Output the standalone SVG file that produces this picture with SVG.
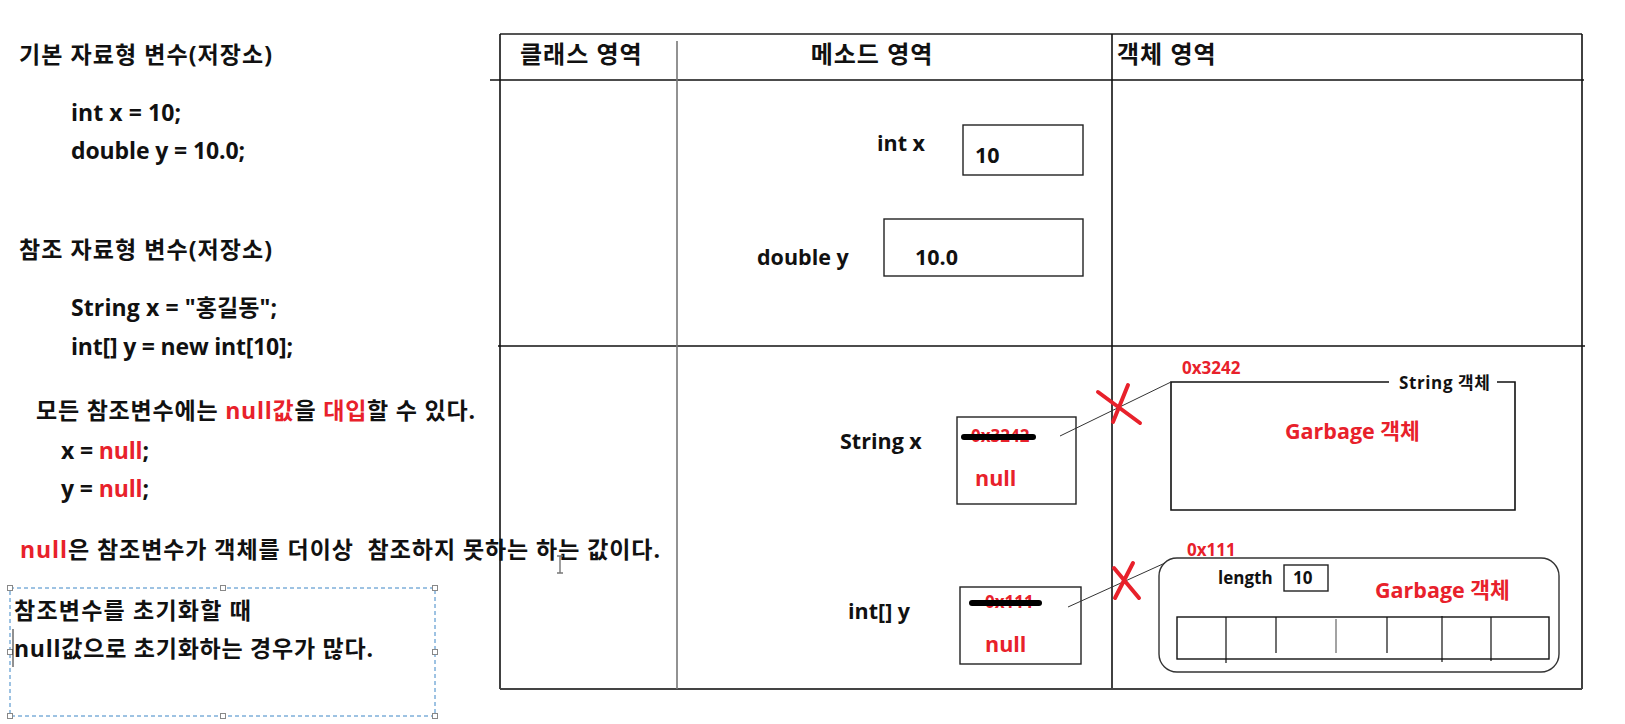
<svg xmlns="http://www.w3.org/2000/svg" width="1625" height="724" viewBox="0 0 1625 724">
<style>
text{font-family:"Open Sans","Noto Sans CJK KR",sans-serif;font-weight:700;fill:#111}
.l{font-size:23px}
.h{font-size:24px;letter-spacing:1px}
.v{font-size:21.5px}
.s{font-size:17px}
.r{fill:#e8212b}
.tb{stroke:#111;stroke-width:1.6;fill:none}
.bx{fill:#fff;stroke:#222;stroke-width:1.4}
.strike{stroke:#000;stroke-width:6;stroke-linecap:round}
.xm{stroke:#e8212b;stroke-width:4;stroke-linecap:round;fill:none}
.con{stroke:#333;stroke-width:1;fill:none}
.hd{fill:#fff;stroke:#888;stroke-width:1}
</style>
<rect width="1625" height="724" fill="#fff"/>

<g id="legend-text">
<text class="l" x="19" y="63" textLength="253" lengthAdjust="spacing">기본 자료형 변수(저장소)</text>
<text class="l" x="71" y="121" textLength="110" lengthAdjust="spacing">int x = 10;</text>
<text class="l" x="71" y="159" textLength="174" lengthAdjust="spacing">double y = 10.0;</text>
<text class="l" x="19" y="258" textLength="253" lengthAdjust="spacing">참조 자료형 변수(저장소)</text>
<text class="l" x="71" y="316" textLength="206" lengthAdjust="spacing">String x = "홍길동";</text>
<text class="l" x="71" y="355" textLength="222" lengthAdjust="spacing">int[] y = new int[10];</text>
<text class="l" x="36" y="419" textLength="439" lengthAdjust="spacing">모든 참조변수에는 <tspan class="r">null값</tspan>을 <tspan class="r">대입</tspan>할 수 있다.</text>
<text class="l" x="61" y="459" textLength="88" lengthAdjust="spacing">x = <tspan class="r">null</tspan>;</text>
<text class="l" x="61" y="497" textLength="88" lengthAdjust="spacing">y = <tspan class="r">null</tspan>;</text>
<text class="l" x="20" y="558" xml:space="preserve" textLength="640" lengthAdjust="spacing"><tspan class="r">null</tspan>은 참조변수가 객체를 더이상  참조하지 못하는 하는 값이다.</text>
</g>

<g id="selected-textbox">
<rect x="10" y="588" width="425" height="128" fill="none" stroke="#3d86c6" stroke-width="1" stroke-dasharray="4,3"/>
<rect class="hd" x="7.5" y="585.5" width="5" height="5"/>
<rect class="hd" x="220.5" y="585.5" width="5" height="5"/>
<rect class="hd" x="432.5" y="585.5" width="5" height="5"/>
<rect class="hd" x="7.5" y="649.5" width="5" height="5"/>
<rect class="hd" x="432.5" y="649.5" width="5" height="5"/>
<rect class="hd" x="7.5" y="713.5" width="5" height="5"/>
<rect class="hd" x="220.5" y="713.5" width="5" height="5"/>
<rect class="hd" x="432.5" y="713.5" width="5" height="5"/>
<text class="l" x="14" y="619" textLength="237" lengthAdjust="spacing">참조변수를 초기화할 때</text>
<text class="l" x="14" y="657" textLength="359" lengthAdjust="spacing">null값으로 초기화하는 경우가 많다.</text>
<line x1="13" y1="629" x2="13" y2="667" stroke="#222" stroke-width="1"/>
</g>

<g id="cursor">
<path d="M557,556 H563 M560,556 V573 M557,573 H563" stroke="#777" stroke-width="1.4" fill="none"/>
</g>

<g id="table">
<line x1="500" y1="34" x2="1582" y2="34" stroke="#555" stroke-width="2"/>
<line class="tb" x1="500" y1="34" x2="500" y2="689"/>
<line class="tb" x1="1582" y1="34" x2="1582" y2="689"/>
<line class="tb" x1="490" y1="80" x2="1584" y2="80"/>
<line class="tb" x1="498" y1="346" x2="1585" y2="346"/>
<line x1="500" y1="689" x2="1582" y2="689" stroke="#444" stroke-width="2"/>
<line x1="677" y1="41" x2="677" y2="689" stroke="#777" stroke-width="1.6"/>
<line class="tb" x1="1112" y1="34" x2="1112" y2="688"/>
<text class="h" x="520" y="63">클래스 영역</text>
<text class="h" x="872" y="63" text-anchor="middle">메소드 영역</text>
<text class="h" x="1117" y="63">객체 영역</text>
</g>

<g id="var-int-x">
<text class="v" x="877" y="151">int x</text>
<rect class="bx" x="963" y="125" width="120" height="50"/>
<text class="v" x="975" y="163">10</text>
</g>

<g id="var-double-y">
<text class="v" x="757" y="265">double y</text>
<rect class="bx" x="884" y="219" width="199" height="57"/>
<text class="v" x="915" y="265">10.0</text>
</g>

<g id="var-string-x">
<text class="v" x="840" y="449">String x</text>
<rect class="bx" x="957" y="417" width="119" height="87"/>
<text class="s r" x="971" y="442">0x3242</text>
<line class="strike" x1="964" y1="437" x2="1033" y2="437"/>
<text class="v r" x="975" y="486">null</text>
</g>

<g id="var-int-arr-y">
<text class="v" x="848" y="619">int[] y</text>
<rect class="bx" x="960" y="587" width="121" height="77" stroke="#555"/>
<text class="s r" x="985" y="608">0x111</text>
<line class="strike" x1="972" y1="603" x2="1039" y2="603"/>
<text class="v r" x="985" y="652">null</text>
</g>

<g id="string-object">
<path class="tb" d="M1389,382 H1171 V510 H1515 V382 H1497" stroke-width="1.4"/>
<text class="s" x="1399" y="389" textLength="91" lengthAdjust="spacing">String 객체</text>
<text class="s r" x="1182" y="374">0x3242</text>
<text class="v r" x="1285" y="439">Garbage 객체</text>
</g>

<g id="array-object">
<rect x="1159" y="558" width="400" height="114" rx="18" fill="none" stroke="#333" stroke-width="1.4"/>
<text class="s r" x="1187" y="556">0x111</text>
<text class="s" x="1218" y="584">length</text>
<rect class="bx" x="1284" y="565" width="44" height="26"/>
<text class="s" x="1293" y="584">10</text>
<text class="v r" x="1375" y="598">Garbage 객체</text>
<rect x="1177" y="617" width="372" height="42" fill="none" stroke="#111" stroke-width="1.4"/>
<g stroke="#111" stroke-width="1.2">
<line x1="1226" y1="617" x2="1226" y2="663"/>
<line x1="1276" y1="617" x2="1276" y2="653"/>
<line x1="1336" y1="619" x2="1336" y2="653" stroke="#666"/>
<line x1="1387" y1="617" x2="1387" y2="653"/>
<line x1="1442" y1="616" x2="1442" y2="662"/>
<line x1="1491" y1="617" x2="1491" y2="661"/>
</g>
</g>

<g id="connectors">
<line class="con" x1="1060" y1="436" x2="1171" y2="382"/>
<line class="con" x1="1068" y1="607" x2="1165" y2="563"/>
<path class="xm" d="M1098,392 L1140,423 M1128,385 L1113,422"/>
<path class="xm" d="M1114,568 L1139,598 M1133,563 L1115,598"/>
</g>
</svg>
